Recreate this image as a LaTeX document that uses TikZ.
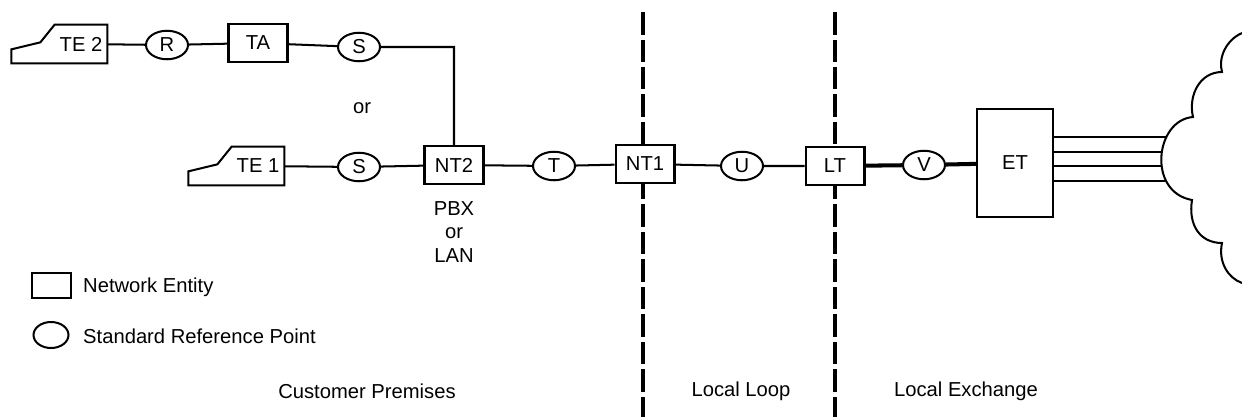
\documentclass[tikz,border=0pt]{standalone}
\usepackage{fontspec}
\setmainfont{Liberation Sans}
\usetikzlibrary{shapes.geometric, calc}
\tikzset{
    wire/.style={line width=1.15pt},
    trunk/.style={line width=2.3pt},
    boundary/.style={line width=2.3pt, dash pattern=on 0.45cm off 0.1cm},
    entity/.style={draw, wire, fill=white, inner sep=0pt, minimum width=1.18cm, minimum height=0.76cm},
    terminal/.style={fill=white, inner sep=0pt, minimum width=1.04cm, minimum height=0.76cm},
    refpoint/.style={draw, wire, fill=white, ellipse, inner sep=0pt, minimum width=0.84cm, minimum height=0.57cm},
    caption/.style={align=center},
}

\begin{document}
\begin{tikzpicture}[x=0.02cm, y=-0.02cm, font=\fontsize{11.5}{13.6}\selectfont]
    \useasboundingbox (0,0) rectangle (1242,417);
    \foreach \x in {643,835} \draw[boundary] (\x,12) -- (\x,417);
    % subscriber side
    \node[terminal] (TE2) at (81,44) {TE 2};
    \node[refpoint] (R) at (167,45) {R};
    \node[entity] (TA) at (258,43) {TA};
    \node[refpoint] (S1) at (359,47) {S};
    \node at (362,108) {or};
    \node[terminal] (TE1) at (258,166) {TE 1};
    \node[refpoint] (S2) at (359,167) {S};
    \node[entity] (NT2) at (454,165) {NT2};
    \node[caption] at (454,232) {PBX\\or\\LAN};
    \node[refpoint] (T) at (554,166) {T};
    \node[entity] (NT1) at (645,164) {NT1};
    \node[refpoint] (U) at (742,166) {U};
    \node[entity] (LT) at (835,166) {LT};
    \node[refpoint] (V) at (924,165) {V};
    \node[entity, minimum width=1.52cm, minimum height=2.16cm] (ET) at (1015,163) {ET};
    \foreach \t in {TE1,TE2}
        \draw[wire] (\t.north west) -- (\t.north east) -- (\t.south east) -- ++(-96,0) -- ++(0,-14) -- ++(29,-7) -- cycle;
    \draw[wire] (TE2) -- (R) -- (TA) -- (S1) -| (NT2);
    \draw[wire] (TE1) -- (S2) -- (NT2) -- (T) -- (NT1) -- (U) -- (LT);
    \draw[trunk] (LT) -- (V) -- (ET);
    % network cloud
    \draw[wire] (1242,33) .. controls (1226,40) and (1218,58) .. (1222,72)
        .. controls (1200,72) and (1188,95) .. (1193,117)
        .. controls (1155,120) and (1147,192) .. (1192,200)
        .. controls (1188,225) and (1200,243) .. (1222,243)
        .. controls (1218,262) and (1228,278) .. (1242,283);
    \foreach \n/\x/\y in {1/1167/137, 2/1163/152, 3/1162/166, 4/1165/181} {
        \coordinate (c\n) at (\x,\y);
        \draw[wire] (ET.east |- c\n) -- (c\n);
    };
    % key
    \node[entity, minimum width=0.78cm, minimum height=0.5cm] (keybox) at (51.5,285.5) {};
    \node[anchor=west] at (77,287) {Network Entity};
    \node[refpoint, minimum width=0.7cm, minimum height=0.52cm] (keyring) at (51,335) {};
    \node[anchor=west] at (77,336) {Standard Reference Point};
    \node at (367,391) {Customer Premises};
    \node at (741,391) {Local Loop};
    \node at (966,391) {Local Exchange};
\end{tikzpicture}
\end{document}
